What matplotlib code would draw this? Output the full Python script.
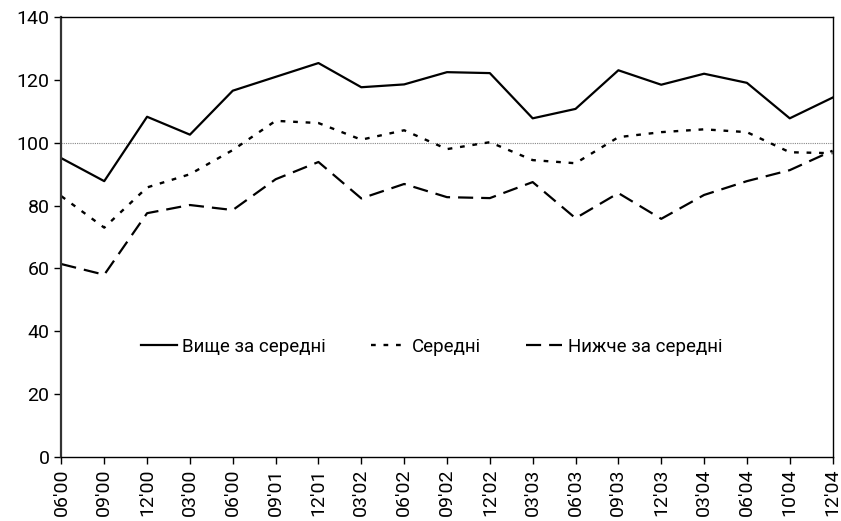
import matplotlib.pyplot as plt

# Data
labels = ["06'00", "09'00", "12'00", "03'00", "06'00", "09'01", "12'01", "03'02",
          "06'02", "09'02", "12'02", "03'03", "06'03", "09'03", "12'03", "03'04",
          "06'04", "10'04", "12'04"]
above = [95.1, 87.8, 108.3, 102.6, 116.6, 121.0, 125.4, 117.7, 118.6, 122.5,
         122.2, 107.8, 110.8, 123.1, 118.5, 122.0, 119.1, 107.8, 114.4]
middle = [83.0, 73.0, 85.8, 90.0, 97.7, 107.0, 106.3, 101.0, 104.0, 98.0,
          100.2, 94.5, 93.5, 101.8, 103.4, 104.3, 103.4, 97.0, 96.7]
below = [61.4, 58.0, 77.6, 80.2, 78.6, 88.4, 93.9, 82.3, 86.9, 82.7,
         82.4, 87.5, 76.0, 84.0, 75.8, 83.4, 87.8, 91.3, 97.5]
names = ["Вище за середні", "Середні", "Нижче за середні"]

plt.rcParams['font.family'] = ['Roboto', 'DejaVu Sans']

fig, ax = plt.subplots(figsize=(8.41, 5.21), dpi=100)
fig.subplots_adjust(left=0.073, right=0.99, top=0.967, bottom=0.123)

x = list(range(len(labels)))
ax.axhline(100, color='#888888', linewidth=0.8, linestyle=(0, (1, 1)), zorder=1)
ax.plot(x, above, color='black', linewidth=1.6, label=names[0])
ax.plot(x, middle, color='black', linewidth=1.7, linestyle=(0, (2, 3.3)), label=names[1])
ax.plot(x, below, color='black', linewidth=1.6, linestyle=(0, (6.8, 3.6)), label=names[2])

ax.set_xlim(0, len(labels) - 1)
ax.set_ylim(0, 140)
ax.set_yticks(range(0, 141, 20))
ax.set_xticks(x)
ax.set_xticklabels(labels, rotation=90)
ax.tick_params(axis='both', labelsize=14, length=5, width=1, direction='out')

for s in ax.spines.values():
    s.set_color('black')
    s.set_linewidth(1)
ax.spines['left'].set_color('#333333')
ax.spines['left'].set_linewidth(1.6)

ax.legend(loc='center', bbox_to_anchor=(0.48, 0.25), ncol=3, frameon=False,
          fontsize=13.5, handlelength=1.9, handletextpad=0.3, columnspacing=2.4)

fig.savefig('out.png')
